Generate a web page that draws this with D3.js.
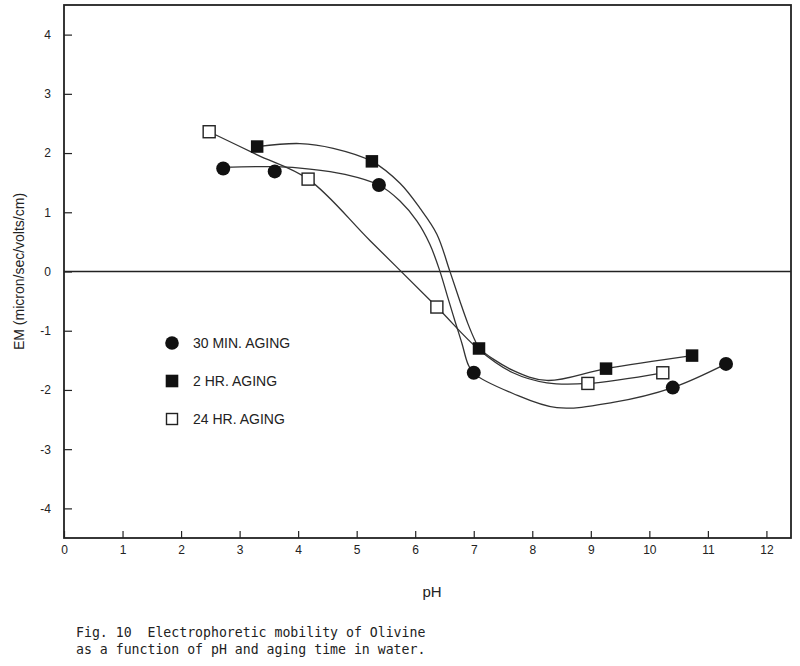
<!DOCTYPE html>
<html>
<head>
<meta charset="utf-8">
<script src="https://cdn.jsdelivr.net/npm/d3@7"></script>
<style>
  html, body { margin: 0; padding: 0; background: #fff; }
  svg { display: block; }
</style>
</head>
<body>
<svg id="chart" width="800" height="666"></svg>
<script>
// ---------- data ----------
const seriesNames = ["30 MIN. AGING", "2 HR. AGING", "24 HR. AGING"];

// measured points
const pH30 = [2.72, 3.60, 5.38, 7.00, 10.40, 11.31];
const em30 = [1.74, 1.69, 1.46, -1.71, -1.96, -1.56];

const pH2 = [3.30, 5.26, 7.09, 9.26, 10.73];
const em2 = [2.11, 1.86, -1.30, -1.64, -1.42];

const pH24 = [2.48, 4.17, 6.37, 8.95, 10.23];
const em24 = [2.36, 1.56, -0.60, -1.89, -1.71];

// hand-fitted curves as drawn in the figure (data units)
const fitPH30 = [2.72, 3.60, 4.20, 4.80, 5.38, 5.74, 6.03, 6.25, 6.42, 6.56, 6.68, 6.80, 6.90, 7.00, 7.67, 8.42, 9.38, 10.40, 11.31];
const fitEM30 = [1.76, 1.77, 1.73, 1.64, 1.46, 1.19, 0.85, 0.46, 0.01, -0.45, -0.84, -1.22, -1.56, -1.72, -2.06, -2.30, -2.21, -1.96, -1.56];

const fitPH2 = [3.30, 4.03, 4.60, 5.26, 5.74, 6.08, 6.37, 6.59, 6.76, 6.90, 7.02, 7.09, 7.67, 8.25, 9.26, 10.73];
const fitEM2 = [2.11, 2.16, 2.08, 1.86, 1.49, 1.07, 0.63, 0.01, -0.49, -0.88, -1.16, -1.29, -1.67, -1.84, -1.64, -1.42];

const fitPH24 = [2.48, 3.30, 4.17, 5.23, 6.37, 7.09, 7.67, 8.25, 8.95, 10.23];
const fitEM24 = [2.36, 1.97, 1.56, 0.52, -0.60, -1.32, -1.71, -1.88, -1.89, -1.71];

const xTicks = [0, 1, 2, 3, 4, 5, 6, 7, 8, 9, 10, 11, 12];
const yTicks = [-4, -3, -2, -1, 0, 1, 2, 3, 4];

const xTitle = "pH";
const yTitle = "EM (micron/sec/volts/cm)";
const caption = ["Fig. 10  Electrophoretic mobility of Olivine",
                 "as a function of pH and aging time in water."];

// ---------- layout ----------
const svg = d3.select("#chart");
const mLeft = 64, mRight = 791, mTop = 5, mBottom = 538;

const x = d3.scaleLinear().domain([0, 12.42]).range([mLeft, mRight]);
const y = d3.scaleLinear().domain([-4.5, 4.5]).range([mBottom, mTop]);

const font = "'Liberation Sans', Arial, Helvetica, sans-serif";

// axes
const xAxis = d3.axisBottom(x).tickValues(xTicks).tickSize(-7).tickPadding(7)
  .tickFormat(d => String(d));
const yAxis = d3.axisLeft(y).tickValues(yTicks).tickSize(-8).tickPadding(13)
  .tickFormat(d => d < 0 ? "-" + Math.abs(d) : String(d));

const gx = svg.append("g").attr("transform", `translate(0,${mBottom})`).call(xAxis);
const gy = svg.append("g").attr("transform", `translate(${mLeft},0)`).call(yAxis);
[gx, gy].forEach(g => {
  g.select(".domain").remove();
  g.selectAll(".tick line").attr("stroke", "#222").attr("stroke-width", 1.2);
  g.selectAll(".tick text").attr("fill", "#222")
    .style("font-family", font).style("font-size", "12px");
});

// frame
svg.append("rect")
  .attr("x", mLeft).attr("y", mTop)
  .attr("width", mRight - mLeft).attr("height", mBottom - mTop)
  .attr("fill", "none").attr("stroke", "#222").attr("stroke-width", 1.8);

// zero line
svg.append("line")
  .attr("x1", mLeft).attr("x2", mRight)
  .attr("y1", y(0)).attr("y2", y(0))
  .attr("stroke", "#222").attr("stroke-width", 1.3);

// curves
const line = d3.line()
  .x(d => x(d[0])).y(d => y(d[1]))
  .curve(d3.curveCatmullRom.alpha(0.5));

const fits = [
  d3.zip(fitPH30, fitEM30),
  d3.zip(fitPH2, fitEM2),
  d3.zip(fitPH24, fitEM24)
];
fits.forEach(f => {
  svg.append("path").attr("d", line(f))
    .attr("fill", "none").attr("stroke", "#333").attr("stroke-width", 1.3);
});

// markers
const pts30 = d3.zip(pH30, em30);
const pts2 = d3.zip(pH2, em2);
const pts24 = d3.zip(pH24, em24);

svg.append("g").selectAll("circle").data(pts30).join("circle")
  .attr("cx", d => x(d[0])).attr("cy", d => y(d[1])).attr("r", 7)
  .attr("fill", "#111");

const sq = 12.5;
svg.append("g").selectAll("rect").data(pts2).join("rect")
  .attr("x", d => x(d[0]) - sq / 2).attr("y", d => y(d[1]) - sq / 2)
  .attr("width", sq).attr("height", sq).attr("fill", "#111");

const osq = 12;
svg.append("g").selectAll("rect").data(pts24).join("rect")
  .attr("x", d => x(d[0]) - osq / 2).attr("y", d => y(d[1]) - osq / 2)
  .attr("width", osq).attr("height", osq)
  .attr("fill", "#fff").attr("stroke", "#222").attr("stroke-width", 1.4);

// legend
const legX = 172, legText = 193;
const legY = [343, 381, 419];
const lg = svg.append("g");
lg.append("circle").attr("cx", legX).attr("cy", legY[0]).attr("r", 6.8).attr("fill", "#111");
lg.append("rect").attr("x", legX - 6.3).attr("y", legY[1] - 6.3)
  .attr("width", 12.6).attr("height", 12.6).attr("fill", "#111");
lg.append("rect").attr("x", legX - 5.5).attr("y", legY[2] - 5.5)
  .attr("width", 11).attr("height", 11)
  .attr("fill", "#fff").attr("stroke", "#222").attr("stroke-width", 1.4);
lg.selectAll("text").data(seriesNames).join("text")
  .attr("x", legText).attr("y", (d, i) => legY[i])
  .attr("dy", "0.36em")
  .style("font-family", font).style("font-size", "14px")
  .attr("fill", "#222")
  .text(d => d);

// axis titles
svg.append("text")
  .attr("transform", `translate(19,${y(0)}) rotate(-90)`)
  .attr("text-anchor", "middle").attr("dy", "0.36em")
  .style("font-family", font).style("font-size", "14px").attr("fill", "#222")
  .text(yTitle);

svg.append("text")
  .attr("x", 432).attr("y", 597)
  .attr("text-anchor", "middle")
  .style("font-family", font).style("font-size", "15px").attr("fill", "#222")
  .text(xTitle);

// caption
svg.append("g").selectAll("text").data(caption).join("text")
  .attr("x", 76).attr("y", (d, i) => 637 + i * 17)
  .style("font-family", "'DejaVu Sans Mono', 'Liberation Mono', monospace")
  .style("font-size", "13.2px").attr("fill", "#222")
  .attr("xml:space", "preserve").style("white-space", "pre")
  .text(d => d);
</script>
</body>
</html>
